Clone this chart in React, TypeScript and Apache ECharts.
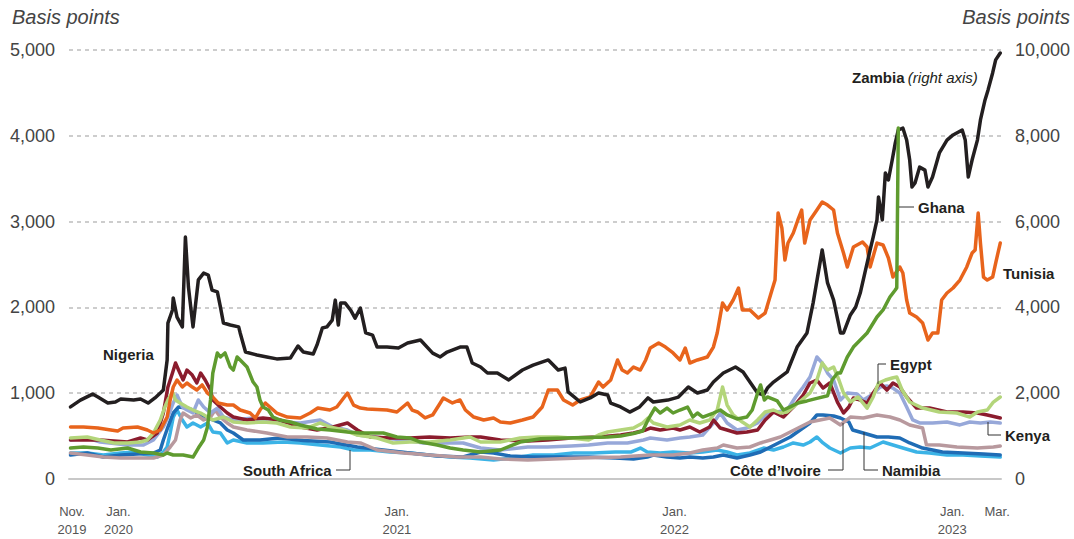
import React, { useEffect, useRef } from "react";
import * as echarts from "echarts";

// ---------- Data (basis points; Zambia on right axis) ----------
const zambia: [string, number][] = [
  ["2019-11-03",1680],["2019-11-16",1840],["2019-12-02",1980],["2019-12-09",1910],["2019-12-22",1770],["2020-01-01",1795],["2020-01-08",1865],["2020-01-25",1840],["2020-02-03",1865],["2020-02-13",1770],["2020-02-22",1890],["2020-02-29",2005],["2020-03-04",2075],["2020-03-09",2775],["2020-03-10",3635],["2020-03-16",3940],["2020-03-17",4220],["2020-03-22",3775],["2020-03-29",3545],["2020-04-02",5640],["2020-04-06",4475],["2020-04-12",3545],["2020-04-19",4640],["2020-04-26",4800],["2020-05-02",4755],["2020-05-07",4405],["2020-05-14",4360],["2020-05-18",4010],["2020-05-22",3635],["2020-05-31",3590],["2020-06-11",3545],["2020-06-13",3405],["2020-06-20",2960],["2020-07-05",2890],["2020-07-18",2845],["2020-07-31",2800],["2020-08-18",2820],["2020-08-22",2935],["2020-08-28",3100],["2020-09-04",2960],["2020-09-17",2915],["2020-09-22",3125],["2020-09-29",3520],["2020-10-05",3545],["2020-10-12",3705],["2020-10-16",4170],["2020-10-20",3590],["2020-10-23",4100],["2020-10-29",4100],["2020-11-05",3940],["2020-11-11",3750],["2020-11-18",3985],["2020-11-25",3405],["2020-12-04",3355],["2020-12-10",3075],["2020-12-23",3075],["2021-01-07",3055],["2021-01-19",3170],["2021-02-05",3240],["2021-02-21",2935],["2021-03-03",2845],["2021-03-12",2960],["2021-03-29",3075],["2021-04-07",3075],["2021-04-14",2705],["2021-04-25",2610],["2021-05-04",2470],["2021-05-17",2470],["2021-06-01",2310],["2021-06-19",2540],["2021-07-03",2655],["2021-07-23",2775],["2021-08-05",2540],["2021-08-14",2585],["2021-08-18",2030],["2021-09-03",1795],["2021-09-16",1890],["2021-09-27",2005],["2021-10-09",1960],["2021-10-13",1770],["2021-10-26",1680],["2021-11-07",1560],["2021-11-20",1680],["2021-12-01",1890],["2021-12-08",1795],["2021-12-27",1840],["2022-01-10",1910],["2022-01-23",2145],["2022-02-04",2005],["2022-02-17",2075],["2022-02-25",2260],["2022-03-10",2470],["2022-03-26",2610],["2022-04-05",2495],["2022-04-14",2260],["2022-04-24",2005],["2022-05-02",1960],["2022-05-07",2120],["2022-05-15",2260],["2022-06-02",2495],["2022-06-15",3075],["2022-06-28",3405],["2022-07-06",4100],["2022-07-18",5340],["2022-07-25",4570],["2022-08-02",4170],["2022-08-11",3405],["2022-08-15",3405],["2022-08-24",3825],["2022-08-31",4010],["2022-09-06",4335],["2022-09-12",4800],["2022-09-19",5340],["2022-09-23",5640],["2022-09-28",6040],["2022-09-30",6575],["2022-10-05",6040],["2022-10-09",7135],["2022-10-13",6970],["2022-10-18",7435],["2022-10-22",7830],["2022-10-26",8135],["2022-11-01",8180],["2022-11-06",7900],["2022-11-10",7435],["2022-11-13",6805],["2022-11-17",6900],["2022-11-23",7270],["2022-11-30",7200],["2022-12-04",6805],["2022-12-10",7040],["2022-12-19",7600],["2022-12-29",7900],["2023-01-06",8020],["2023-01-18",8135],["2023-01-22",7900],["2023-01-26",7040],["2023-01-31",7435],["2023-02-07",7900],["2023-02-11",8370],["2023-02-17",8835],["2023-02-21",9070],["2023-02-27",9465],["2023-03-03",9770],["2023-03-09",9930]
];

const tunisia: [string, number][] = [
  ["2019-11-03",606],["2019-11-20",606],["2019-12-09",594],["2019-12-26",571],["2020-01-04",560],["2020-01-11",594],["2020-01-30",606],["2020-02-12",571],["2020-02-20",536],["2020-02-29",571],["2020-03-09",722],["2020-03-13",920],["2020-03-17",1072],["2020-03-22",1154],["2020-03-29",1072],["2020-04-04",1119],["2020-04-11",1072],["2020-04-17",1037],["2020-04-24",1096],["2020-05-01",1002],["2020-05-08",955],["2020-05-15",886],["2020-05-27",862],["2020-06-04",862],["2020-06-13",804],["2020-06-26",769],["2020-07-03",711],["2020-07-09",804],["2020-07-16",886],["2020-07-22",839],["2020-07-31",769],["2020-08-14",722],["2020-08-31",711],["2020-09-13",769],["2020-09-23",827],["2020-10-09",804],["2020-10-18",839],["2020-11-01",1002],["2020-11-09",862],["2020-11-18",827],["2020-11-27",816],["2020-12-23",804],["2021-01-05",781],["2021-01-19",886],["2021-01-25",804],["2021-02-01",781],["2021-02-11",711],["2021-02-21",746],["2021-03-03",886],["2021-03-07",944],["2021-03-19",886],["2021-03-29",921],["2021-04-05",804],["2021-04-16",722],["2021-04-29",688],["2021-05-12",711],["2021-05-21",664],["2021-06-03",653],["2021-06-19",688],["2021-07-03",722],["2021-07-15",839],["2021-07-23",1037],["2021-08-04",1037],["2021-08-12",921],["2021-08-24",862],["2021-09-03",921],["2021-09-16",956],["2021-09-27",1130],["2021-10-03",1072],["2021-10-13",1154],["2021-10-22",1387],["2021-10-28",1270],["2021-11-04",1235],["2021-11-12",1305],["2021-11-21",1270],["2021-11-28",1387],["2021-12-04",1527],["2021-12-15",1585],["2021-12-24",1538],["2022-01-03",1469],["2022-01-12",1387],["2022-01-19",1527],["2022-01-25",1352],["2022-02-04",1387],["2022-02-17",1422],["2022-02-25",1538],["2022-03-02",1701],["2022-03-09",2051],["2022-03-15",1970],["2022-03-23",2086],["2022-03-30",2226],["2022-04-04",1970],["2022-04-14",1970],["2022-04-25",1876],["2022-05-04",1935],["2022-05-13",2203],["2022-05-17",2319],["2022-05-21",3100],["2022-05-26",2925],["2022-05-30",2552],["2022-06-03",2750],["2022-06-10",2867],["2022-06-16",3019],["2022-06-21",3135],["2022-06-25",2750],["2022-07-02",3019],["2022-07-11",3135],["2022-07-18",3229],["2022-07-25",3193],["2022-08-02",3135],["2022-08-07",2867],["2022-08-15",2634],["2022-08-20",2471],["2022-08-28",2704],["2022-09-09",2762],["2022-09-15",2704],["2022-09-19",2471],["2022-09-28",2750],["2022-10-06",2727],["2022-10-13",2576],["2022-10-19",2354],["2022-10-28",2471],["2022-11-01",2401],["2022-11-06",2086],["2022-11-10",1935],["2022-11-19",1888],["2022-11-27",1818],["2022-12-04",1620],["2022-12-10",1702],["2022-12-17",1702],["2022-12-22",2086],["2022-12-29",2168],["2023-01-06",2226],["2023-01-15",2319],["2023-01-24",2471],["2023-01-31",2634],["2023-02-04",2669],["2023-02-08",3100],["2023-02-11",2750],["2023-02-15",2354],["2023-02-20",2319],["2023-02-27",2354],["2023-03-03",2517],["2023-03-09",2750]
];

const ghana: [string, number][] = [
  ["2019-11-03",361],["2019-11-20",373],["2019-12-09",361],["2019-12-26",338],["2020-01-17",361],["2020-02-03",315],["2020-02-20",303],["2020-03-04",280],["2020-03-09",303],["2020-03-17",280],["2020-03-30",280],["2020-04-12",256],["2020-04-19",361],["2020-04-26",455],["2020-05-01",606],["2020-05-05",921],["2020-05-08",1235],["2020-05-14",1469],["2020-05-18",1422],["2020-05-24",1469],["2020-05-31",1305],["2020-06-04",1270],["2020-06-09",1422],["2020-06-13",1387],["2020-06-22",1305],["2020-06-30",1130],["2020-07-05",1072],["2020-07-09",921],["2020-07-13",839],["2020-07-20",804],["2020-07-26",722],["2020-08-04",688],["2020-08-18",664],["2020-08-31",629],["2020-09-22",583],["2020-10-09",571],["2020-11-01",548],["2020-11-18",536],["2020-12-01",536],["2020-12-18",536],["2021-01-05",490],["2021-01-22",478],["2021-02-05",431],["2021-02-27",396],["2021-03-16",361],["2021-04-02",338],["2021-04-25",315],["2021-05-21",338],["2021-06-16",431],["2021-07-13",470],["2021-08-26",480],["2021-10-09",490],["2021-10-26",500],["2021-11-12",530],["2021-11-24",560],["2021-12-01",688],["2021-12-10",827],["2021-12-17",769],["2021-12-26",827],["2022-01-03",769],["2022-01-12",804],["2022-01-22",839],["2022-01-29",722],["2022-02-04",769],["2022-02-11",722],["2022-02-25",769],["2022-03-06",804],["2022-03-15",746],["2022-03-28",700],["2022-04-10",722],["2022-04-17",804],["2022-04-24",1000],["2022-04-28",1096],["2022-05-03",921],["2022-05-07",956],["2022-05-20",910],["2022-05-28",804],["2022-06-06",840],["2022-06-16",886],["2022-06-28",910],["2022-07-11",940],["2022-07-25",970],["2022-07-31",1154],["2022-08-07",1235],["2022-08-11",1235],["2022-08-20",1422],["2022-08-28",1538],["2022-09-15",1702],["2022-09-28",1888],["2022-10-06",1970],["2022-10-15",2121],["2022-10-22",2203],["2022-10-24",2230],["2022-10-26",4090]
];

const egypt: [string, number][] = [
  ["2019-11-03",478],["2019-11-25",490],["2019-12-12",455],["2019-12-30",420],["2020-01-17",420],["2020-02-03",431],["2020-02-12",455],["2020-02-20",536],["2020-02-29",688],["2020-03-06",839],["2020-03-10",921],["2020-03-16",1014],["2020-03-20",921],["2020-03-26",886],["2020-04-04",839],["2020-04-12",804],["2020-04-22",769],["2020-05-01",722],["2020-05-08",688],["2020-05-22",722],["2020-06-04",664],["2020-06-22",653],["2020-07-13",664],["2020-07-31",653],["2020-08-18",606],["2020-09-09",594],["2020-09-26",653],["2020-10-09",606],["2020-10-27",571],["2020-11-14",513],["2020-12-10",478],["2020-12-31",420],["2021-01-22",431],["2021-02-17",431],["2021-03-16",455],["2021-04-11",490],["2021-04-25",431],["2021-05-21",431],["2021-06-16",478],["2021-07-09",490],["2021-08-04",490],["2021-08-22",478],["2021-09-14",455],["2021-09-27",513],["2021-10-09",548],["2021-10-26",571],["2021-11-12",594],["2021-11-24",653],["2021-12-01",711],["2021-12-08",653],["2021-12-26",606],["2022-01-12",630],["2022-01-25",688],["2022-02-07",653],["2022-02-20",688],["2022-03-02",804],["2022-03-09",1072],["2022-03-15",862],["2022-03-23",746],["2022-04-04",664],["2022-04-14",606],["2022-04-24",688],["2022-05-04",781],["2022-05-15",804],["2022-05-24",769],["2022-06-02",781],["2022-06-10",839],["2022-06-21",921],["2022-07-02",1002],["2022-07-11",1154],["2022-07-18",1352],["2022-07-25",1270],["2022-08-02",1305],["2022-08-09",1154],["2022-08-15",1002],["2022-08-24",897],["2022-09-03",956],["2022-09-15",827],["2022-09-23",956],["2022-09-30",1119],["2022-10-09",1154],["2022-10-18",1177],["2022-10-24",1189],["2022-10-31",1037],["2022-11-10",897],["2022-11-27",827],["2022-12-19",781],["2023-01-11",769],["2023-01-28",722],["2023-02-07",781],["2023-02-20",804],["2023-02-28",897],["2023-03-09",956]
];

const nigeria: [string, number][] = [
  ["2019-11-03",455],["2019-12-12",455],["2020-01-17",431],["2020-02-03",478],["2020-02-12",455],["2020-02-25",536],["2020-03-04",769],["2020-03-10",1072],["2020-03-16",1235],["2020-03-20",1352],["2020-03-24",1270],["2020-03-30",1154],["2020-04-04",1270],["2020-04-11",1212],["2020-04-17",1119],["2020-04-22",1235],["2020-04-28",1154],["2020-05-05",1037],["2020-05-08",921],["2020-05-18",839],["2020-05-27",769],["2020-06-04",722],["2020-06-22",688],["2020-07-13",711],["2020-08-04",688],["2020-08-31",606],["2020-09-22",571],["2020-10-13",606],["2020-11-01",653],["2020-11-14",571],["2020-12-01",490],["2020-12-27",478],["2021-01-22",478],["2021-02-17",490],["2021-03-16",478],["2021-04-11",490],["2021-04-25",490],["2021-05-21",455],["2021-06-26",443],["2021-07-22",455],["2021-08-22",478],["2021-09-27",490],["2021-10-26",513],["2021-11-12",536],["2021-11-28",571],["2021-12-04",594],["2021-12-17",571],["2022-01-03",594],["2022-01-12",571],["2022-01-25",606],["2022-02-07",548],["2022-02-20",606],["2022-02-25",688],["2022-03-06",594],["2022-03-15",571],["2022-03-28",536],["2022-04-10",548],["2022-04-24",571],["2022-05-04",688],["2022-05-15",781],["2022-05-28",722],["2022-06-10",839],["2022-06-23",979],["2022-07-02",1119],["2022-07-11",1154],["2022-07-19",1060],["2022-07-28",1119],["2022-08-07",897],["2022-08-15",769],["2022-08-22",839],["2022-08-28",944],["2022-09-06",921],["2022-09-15",886],["2022-09-23",1002],["2022-10-02",1119],["2022-10-11",1037],["2022-10-19",1119],["2022-10-28",1072],["2022-11-06",956],["2022-11-19",827],["2022-12-06",827],["2022-12-29",781],["2023-01-19",781],["2023-02-07",769],["2023-02-20",746],["2023-03-09",711]
];

const kenya: [string, number][] = [
  ["2019-11-03",455],["2019-11-25",478],["2019-12-12",431],["2020-01-17",396],["2020-02-07",396],["2020-02-20",455],["2020-03-04",606],["2020-03-10",722],["2020-03-17",886],["2020-03-22",979],["2020-03-29",839],["2020-04-04",804],["2020-04-12",769],["2020-04-19",921],["2020-04-26",839],["2020-05-05",769],["2020-05-14",827],["2020-05-22",722],["2020-06-04",688],["2020-06-30",711],["2020-07-18",664],["2020-08-08",664],["2020-08-31",653],["2020-09-26",688],["2020-10-13",606],["2020-11-01",571],["2020-11-14",513],["2020-12-18",478],["2021-01-14",455],["2021-02-09",420],["2021-03-07",420],["2021-04-02",420],["2021-04-25",361],["2021-05-21",338],["2021-06-26",373],["2021-07-22",373],["2021-08-22",385],["2021-09-14",396],["2021-10-09",420],["2021-11-04",420],["2021-11-25",455],["2021-12-04",478],["2021-12-26",455],["2022-01-12",478],["2022-01-25",490],["2022-02-11",513],["2022-02-25",653],["2022-03-06",769],["2022-03-15",653],["2022-03-28",571],["2022-04-10",594],["2022-04-24",653],["2022-05-07",769],["2022-05-20",781],["2022-06-02",804],["2022-06-13",956],["2022-06-23",1072],["2022-07-02",1189],["2022-07-11",1422],["2022-07-18",1352],["2022-07-25",1235],["2022-08-02",1154],["2022-08-11",921],["2022-08-20",1002],["2022-09-02",991],["2022-09-10",921],["2022-09-23",991],["2022-10-02",1072],["2022-10-11",1084],["2022-10-19",1060],["2022-10-28",1002],["2022-11-06",839],["2022-11-14",688],["2022-11-23",653],["2022-12-10",653],["2022-12-29",664],["2023-01-15",630],["2023-01-28",664],["2023-02-11",653],["2023-02-24",664],["2023-03-09",653]
];

const coteDivoire: [string, number][] = [
  ["2019-11-03",303],["2019-11-25",280],["2019-12-16",256],["2020-01-08",245],["2020-02-20",245],["2020-03-04",280],["2020-03-13",373],["2020-03-20",455],["2020-03-26",688],["2020-03-30",769],["2020-04-09",711],["2020-04-17",746],["2020-04-26",688],["2020-05-05",722],["2020-05-11",804],["2020-05-18",722],["2020-05-27",653],["2020-06-04",606],["2020-06-22",571],["2020-07-18",536],["2020-08-14",490],["2020-09-09",490],["2020-10-05",478],["2020-11-01",431],["2020-11-18",420],["2020-12-10",338],["2021-01-14",303],["2021-02-17",280],["2021-03-24",256],["2021-04-25",256],["2021-05-21",233],["2021-06-26",221],["2021-07-30",233],["2021-09-03",245],["2021-10-26",256],["2021-12-04",280],["2022-01-03",280],["2022-01-25",303],["2022-02-11",338],["2022-03-02",361],["2022-03-10",396],["2022-03-28",361],["2022-04-14",373],["2022-04-28",420],["2022-05-11",455],["2022-05-24",490],["2022-06-06",548],["2022-06-19",606],["2022-07-02",664],["2022-07-15",688],["2022-07-28",711],["2022-08-11",630],["2022-08-24",722],["2022-09-10",711],["2022-09-28",746],["2022-10-15",722],["2022-10-28",688],["2022-11-10",630],["2022-11-27",594],["2022-12-02",398],["2022-12-19",396],["2023-01-11",373],["2023-02-07",361],["2023-02-28",373],["2023-03-09",385]
];

const namibia: [string, number][] = [
  ["2019-11-03",280],["2019-11-25",303],["2019-12-16",256],["2020-01-08",280],["2020-02-20",303],["2020-02-29",338],["2020-03-04",455],["2020-03-10",606],["2020-03-17",769],["2020-03-24",839],["2020-04-04",827],["2020-04-12",804],["2020-04-22",746],["2020-05-01",722],["2020-05-08",688],["2020-05-18",653],["2020-05-27",571],["2020-06-04",536],["2020-06-17",455],["2020-07-09",455],["2020-08-04",478],["2020-09-04",450],["2020-10-09",431],["2020-11-14",373],["2020-12-18",338],["2021-01-22",303],["2021-02-27",268],["2021-04-02",256],["2021-04-25",315],["2021-05-12",303],["2021-06-03",268],["2021-07-03",256],["2021-08-08",256],["2021-09-14",256],["2021-10-19",245],["2021-11-12",233],["2021-11-30",256],["2021-12-08",280],["2021-12-26",256],["2022-01-12",245],["2022-01-25",256],["2022-02-11",245],["2022-02-25",256],["2022-03-10",280],["2022-03-28",245],["2022-04-14",280],["2022-04-28",315],["2022-05-11",373],["2022-05-24",431],["2022-06-06",490],["2022-06-19",571],["2022-07-02",653],["2022-07-11",746],["2022-07-19",746],["2022-08-02",734],["2022-08-11",711],["2022-08-22",664],["2022-08-27",571],["2022-09-10",536],["2022-09-28",490],["2022-10-13",490],["2022-10-28",478],["2022-11-10",420],["2022-11-27",361],["2022-12-23",315],["2023-01-19",303],["2023-02-15",291],["2023-03-09",280]
];

const southAfrica: [string, number][] = [
  ["2019-11-03",303],["2019-11-25",303],["2019-12-16",280],["2020-01-08",303],["2020-01-25",315],["2020-02-12",280],["2020-02-25",256],["2020-03-03",303],["2020-03-09",373],["2020-03-13",536],["2020-03-17",722],["2020-03-22",804],["2020-03-29",688],["2020-04-04",606],["2020-04-12",653],["2020-04-22",606],["2020-05-01",653],["2020-05-08",548],["2020-05-18",536],["2020-05-27",420],["2020-06-04",455],["2020-06-22",420],["2020-07-13",420],["2020-08-08",431],["2020-08-31",420],["2020-09-26",396],["2020-10-23",373],["2020-11-09",338],["2020-12-01",338],["2020-12-27",315],["2021-01-22",303],["2021-02-17",280],["2021-03-16",256],["2021-04-11",245],["2021-05-12",221],["2021-06-07",245],["2021-07-03",280],["2021-07-30",280],["2021-08-25",303],["2021-09-20",303],["2021-10-19",315],["2021-11-09",315],["2021-11-21",361],["2021-11-30",315],["2021-12-17",303],["2022-01-03",315],["2022-01-25",303],["2022-02-11",315],["2022-03-02",338],["2022-03-15",315],["2022-03-28",280],["2022-04-14",303],["2022-05-02",361],["2022-05-15",338],["2022-05-28",373],["2022-06-10",420],["2022-06-23",396],["2022-07-02",431],["2022-07-11",490],["2022-07-19",420],["2022-07-28",361],["2022-08-11",303],["2022-08-24",361],["2022-09-06",373],["2022-09-19",361],["2022-10-06",431],["2022-10-19",396],["2022-11-01",361],["2022-11-19",315],["2022-12-06",303],["2022-12-29",280],["2023-01-19",280],["2023-02-11",268],["2023-03-09",256]
];

const xTickDates = ["2019-11-01", "2020-01-01", "2021-01-01", "2022-01-01", "2023-01-01", "2023-03-01"];
const xTickLabels = ["Nov.\n2019", "Jan.\n2020", "Jan.\n2021", "Jan.\n2022", "Jan.\n2023", "Mar."];
const xMin = "2019-11-01";
const xMax = "2023-03-10";

const leftTicks = { min: 0, max: 5000, interval: 1000 };
const rightTicks = { min: 0, max: 10000, interval: 2000 };

const ts = (s: string) => new Date(s + "T00:00:00").getTime();
const toSeries = (arr: [string, number][]) => arr.map(([d, v]) => [ts(d), v]);

const FONT = "'Liberation Sans', Arial, Helvetica, sans-serif";
const LABEL = "#231f20";

export default function App() {
  const ref = useRef<HTMLDivElement>(null);
  useEffect(() => {
    if (!ref.current) return;
    const chart = echarts.init(ref.current, undefined, { renderer: "svg" });

    const mk = (name: string, data: [string, number][], color: string, z: number, yAxisIndex = 0, width = 3.5) => ({
      name,
      type: "line",
      data: toSeries(data),
      yAxisIndex,
      showSymbol: false,
      symbol: "none",
      z,
      lineStyle: { color, width, join: "round", cap: "round" },
      itemStyle: { color },
      emphasis: { disabled: true },
      silent: true,
    });

    const label = (text: string, x: number, y: number) => ({
      type: "text",
      x,
      y,
      style: { text, fill: LABEL, font: `bold 15px ${FONT}`, verticalAlign: "middle", align: "left" },
      z: 100,
    });
    const leader = (pts: number[][]) => ({
      type: "polyline",
      shape: { points: pts },
      style: { stroke: "#333", lineWidth: 1, fill: "none" },
      z: 100,
    });

    const baseGraphics: any[] = [
      { type: "text", left: 12, top: 7, style: { text: "Basis points", fill: "#444", font: `italic 20px ${FONT}` } },
      { type: "text", right: 4, top: 7, style: { text: "Basis points", fill: "#444", font: `italic 20px ${FONT}` } },
      label("Nigeria", 103, 354),
      label("South Africa", 243, 470),
      leader([[336, 470], [350, 470], [350, 450]]),
      {
        type: "text",
        x: 852,
        y: 77,
        z: 100,
        style: {
          text: "{b|Zambia} {i|(right axis)}",
          verticalAlign: "middle",
          rich: {
            b: { font: `bold 15px ${FONT}`, fill: LABEL },
            i: { font: `italic 15px ${FONT}`, fill: LABEL },
          },
        },
      },
      label("Ghana", 918, 207),
      leader([[899, 207], [914, 207]]),
      label("Tunisia", 1003, 273),
      label("Egypt", 890, 364),
      leader([[878, 384], [878, 364], [886, 364]]),
      label("Kenya", 1005, 435),
      leader([[988, 422], [988, 435], [1001, 435]]),
      label("Côte d’Ivoire", 730, 470),
      leader([[828, 470], [843, 470], [843, 423]]),
      label("Namibia", 882, 470),
      leader([[864, 432], [864, 470], [878, 470]]),
    ];

    const axisLabelStyle = {
      color: "#444",
      fontSize: 18,
      fontFamily: FONT,
      margin: 14,
      formatter: (v: number) => v.toLocaleString("en-US"),
    };

    chart.setOption({
      animation: false,
      backgroundColor: "#fff",
      grid: { left: 69, right: 73, top: 50, bottom: 60, containLabel: false },
      xAxis: {
        type: "value",
        min: ts(xMin),
        max: ts(xMax),
        axisLine: { show: true, onZero: false, lineStyle: { color: "#c8c8c8", width: 2 } },
        axisTick: { show: false },
        splitLine: { show: false },
        axisLabel: { show: false },
      },
      yAxis: [
        {
          type: "value",
          ...leftTicks,
          position: "left",
          axisLine: { show: false },
          axisTick: { show: false },
          splitLine: { show: true, lineStyle: { color: "#bdbdbd", width: 1.5, type: [4, 4] } },
          axisLabel: axisLabelStyle,
        },
        {
          type: "value",
          ...rightTicks,
          position: "right",
          axisLine: { show: false },
          axisTick: { show: false },
          splitLine: { show: false },
          axisLabel: axisLabelStyle,
        },
      ],
      series: [
        mk("South Africa", southAfrica, "#3bb3e6", 2),
        mk("Namibia", namibia, "#1f6cb5", 3),
        mk("Côte d'Ivoire", coteDivoire, "#b8999e", 4),
        mk("Kenya", kenya, "#97a8d9", 5),
        mk("Nigeria", nigeria, "#8b1c2d", 6),
        mk("Egypt", egypt, "#b3d57a", 7),
        mk("Tunisia", tunisia, "#e8641c", 8),
        mk("Zambia", zambia, "#231f20", 9, 1),
        mk("Ghana", ghana, "#5f9b2f", 10),
      ],
      graphic: baseGraphics,
    });

    // x tick labels placed through the axis scale
    const baseY = chart.convertToPixel({ yAxisIndex: 0 }, 0) as number;
    const tickGraphics = xTickDates.map((d, i) => {
      const px = chart.convertToPixel({ xAxisIndex: 0 }, ts(d)) as number;
      return {
        type: "text",
        x: px + 3,
        y: baseY + 23,
        style: {
          text: xTickLabels[i],
          fill: "#555",
          font: `13px ${FONT}`,
          align: "center",
          verticalAlign: "top",
          lineHeight: 18,
        },
      };
    });
    chart.setOption({ graphic: [...baseGraphics, ...tickGraphics] });

    return () => chart.dispose();
  }, []);
  return <div ref={ref} style={{ width: 1074, height: 539, position: "absolute", left: 0, top: 0 }} />;
}
